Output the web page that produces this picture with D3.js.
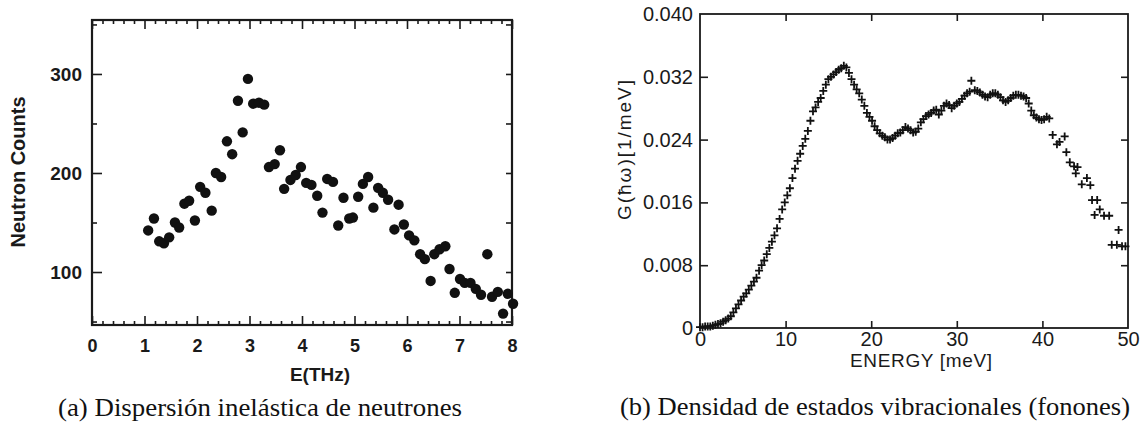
<!DOCTYPE html>
<html><head><meta charset="utf-8">
<script src="https://cdn.jsdelivr.net/npm/d3@7"></script>
<style>body{margin:0;background:#fff}svg{display:block}</style>
</head><body><svg id="c" width="1141" height="425"></svg>
<script>
// ---------- data: panel (a) ----------
const neutronE = [1.07,1.18,1.28,1.37,1.47,1.58,1.66,1.76,1.85,1.96,2.06,2.16,2.28,2.36,2.46,2.57,2.67,2.78,2.87,2.97,3.07,3.18,3.28,3.37,3.48,3.58,3.66,3.78,3.88,3.98,4.08,4.18,4.29,4.39,4.48,4.59,4.69,4.79,4.90,4.97,5.07,5.16,5.26,5.36,5.45,5.54,5.64,5.76,5.84,5.94,6.04,6.14,6.25,6.34,6.45,6.52,6.62,6.73,6.81,6.91,7.01,7.10,7.21,7.31,7.41,7.53,7.62,7.73,7.83,7.92,8.02];
const neutronCounts = [142,154,131,129,135,150,145,169,172,152,186,180,162,200,196,232,219,273,241,295,270,271,269,206,209,223,184,193,198,206,190,188,177,160,194,191,147,175,154,155,176,189,196,165,185,180,173,143,168,148,137,132,118,113,91,118,123,126,103,79,93,89,89,83,77,118,75,80,58,78,68];
const xTicksA = [0,1,2,3,4,5,6,7,8];
const yTicksA = [100,200,300];
const yMinorA = [50,150,250,350];

// ---------- data: panel (b) ----------
const dosE = [0.0,0.3,0.6,0.9,1.2,1.5,1.8,2.1,2.4,2.7,3.0,3.3,3.6,3.9,4.2,4.5,4.8,5.1,5.4,5.7,6.0,6.3,6.6,6.9,7.2,7.5,7.8,8.1,8.4,8.7,9.0,9.3,9.6,9.9,10.2,10.5,10.8,11.1,11.4,11.7,12.0,12.3,12.6,12.9,13.2,13.5,13.8,14.1,14.4,14.7,15.0,15.3,15.6,15.9,16.2,16.5,16.8,17.1,17.4,17.7,18.0,18.3,18.6,18.9,19.2,19.5,19.8,20.1,20.4,20.7,21.0,21.3,21.6,21.9,22.2,22.5,22.8,23.1,23.4,23.7,24.0,24.3,24.6,24.9,25.2,25.5,25.8,26.1,26.4,26.7,27.0,27.3,27.6,27.9,28.2,28.5,28.8,29.1,29.4,29.7,30.0,30.3,30.6,30.9,31.2,31.5,31.7,32.1,32.4,32.7,33.0,33.3,33.6,33.9,34.2,34.5,34.8,35.1,35.4,35.7,36.0,36.3,36.6,36.9,37.2,37.5,37.8,38.1,38.4,38.7,39.0,39.3,39.6,39.9,40.2,40.5,40.8,
  41.2,41.7,42.0,42.6,42.8,43.2,43.7,43.9,44.1,44.6,45.2,45.6,45.8,46.1,46.4,46.7,47.2,47.8,48.1,48.7,48.9,49.3,49.7];
const dosG = [0.0001,0.0001,0.0002,0.0002,0.0002,0.0003,0.0004,0.0005,0.0006,0.0008,0.0010,0.0012,0.0015,0.0020,0.0025,0.0030,0.0035,0.0040,0.0044,0.0049,0.0054,0.0059,0.0064,0.0073,0.0080,0.0086,0.0094,0.0102,0.0110,0.0118,0.0127,0.0139,0.0151,0.0160,0.0169,0.0178,0.0191,0.0203,0.0213,0.0222,0.0232,0.0241,0.0251,0.0264,0.0276,0.0281,0.0288,0.0293,0.0302,0.0310,0.0317,0.0320,0.0323,0.0326,0.0329,0.0331,0.0334,0.0332,0.0325,0.0317,0.0310,0.0304,0.0299,0.0291,0.0283,0.0274,0.0269,0.0264,0.0257,0.0252,0.0248,0.0245,0.0243,0.0240,0.0240,0.0242,0.0245,0.0248,0.0249,0.0252,0.0256,0.0254,0.0252,0.0249,0.0250,0.0254,0.0262,0.0266,0.0270,0.0272,0.0274,0.0277,0.0278,0.0272,0.0277,0.0283,0.0286,0.0284,0.0280,0.0283,0.0286,0.0288,0.0292,0.0296,0.0299,0.0301,0.0315,0.0303,0.0302,0.0300,0.0297,0.0295,0.0294,0.0297,0.0299,0.0299,0.0297,0.0294,0.0290,0.0288,0.0290,0.0293,0.0296,0.0297,0.0297,0.0296,0.0295,0.0293,0.0286,0.0277,0.0271,0.0268,0.0266,0.0265,0.0266,0.0269,0.0267,
  0.0246,0.0234,0.0237,0.0244,0.0224,0.0211,0.0206,0.0197,0.0205,0.0183,0.0191,0.0182,0.0163,0.0144,0.0163,0.0151,0.0143,0.0143,0.0106,0.0106,0.0125,0.0104,0.0104];
const xTicksB = [0,10,20,30,40,50];
const yTicksB = [0,0.008,0.016,0.024,0.032,0.040];
const yLabelsB = ["0","0.008","0.016","0.024","0.032","0.040"];

const captionA = "(a) Dispersión inelástica de neutrones";
const captionB = "(b) Densidad de estados vibracionales (fonones)";

const svg = d3.select("#c");
svg.append("rect").attr("width",1141).attr("height",425).attr("fill","#fff");
const INK = "#1a1a1a";
const SANS = "'Liberation Sans', Arial, Helvetica, sans-serif";
const SERIF = "'Liberation Serif', 'DejaVu Serif', serif";

function styleAxis(g, fs, weight){
  g.select(".domain").remove();
  g.selectAll("line").attr("stroke", INK).attr("stroke-width", 1.6);
  g.selectAll("text").attr("font-family", SANS).attr("font-size", fs)
    .attr("font-weight", weight).attr("fill", INK);
}

// ================= Panel (a) =================
const xA = d3.scaleLinear().domain([0,8]).range([92,512]);
const yA = d3.scaleLinear().domain([46.5,354.5]).range([325,20]);
const minorX = d3.range(0,8.01,0.2).filter(v => Math.abs(v-Math.round(v))>1e-6);

const gA = svg.append("g");
gA.append("g").attr("transform",`translate(0,${yA.range()[0]})`)
  .call(d3.axisBottom(xA).tickValues(minorX).tickSize(-4).tickFormat(""))
  .call(g=>styleAxis(g,18,"bold"));
gA.append("g").attr("transform",`translate(0,${yA.range()[0]})`)
  .call(d3.axisBottom(xA).tickValues(xTicksA).tickSize(-9).tickPadding(14).tickFormat(d3.format("d")))
  .call(g=>styleAxis(g,18,"bold"));
gA.append("g").attr("transform",`translate(0,${yA.range()[1]})`)
  .call(d3.axisTop(xA).tickValues(minorX).tickSize(-4).tickFormat(""))
  .call(g=>styleAxis(g,18,"bold"));
gA.append("g").attr("transform",`translate(0,${yA.range()[1]})`)
  .call(d3.axisTop(xA).tickValues(xTicksA).tickSize(-9).tickFormat(""))
  .call(g=>styleAxis(g,18,"bold"));
gA.append("g").attr("transform",`translate(${xA.range()[0]},0)`)
  .call(d3.axisLeft(yA).tickValues(yMinorA).tickSize(-5).tickFormat(""))
  .call(g=>styleAxis(g,19,"bold"));
gA.append("g").attr("transform",`translate(${xA.range()[0]},0)`)
  .call(d3.axisLeft(yA).tickValues(yTicksA).tickSize(-10).tickPadding(10).tickFormat(d3.format("d")))
  .call(g=>styleAxis(g,19,"bold"));
gA.append("g").attr("transform",`translate(${xA.range()[1]},0)`)
  .call(d3.axisRight(yA).tickValues(yMinorA.concat(yTicksA)).tickSize(-6).tickFormat(""))
  .call(g=>styleAxis(g,19,"bold"));
gA.append("rect").attr("x",xA.range()[0]).attr("y",yA.range()[1])
  .attr("width",xA.range()[1]-xA.range()[0]).attr("height",yA.range()[0]-yA.range()[1])
  .attr("fill","none").attr("stroke",INK).attr("stroke-width",2.2);
gA.append("g").selectAll("circle").data(neutronE.map((e,i)=>[e,neutronCounts[i]]))
  .join("circle").attr("cx",d=>xA(d[0])).attr("cy",d=>yA(d[1])).attr("r",5.2).attr("fill","#111");
gA.append("text").attr("x",320).attr("y",381).attr("text-anchor","middle")
  .attr("font-family",SANS).attr("font-weight","bold").attr("font-size",19).attr("fill",INK).text("E(THz)");
gA.append("text").attr("transform","translate(25,172) rotate(-90)").attr("text-anchor","middle")
  .attr("font-family",SANS).attr("font-weight","bold").attr("font-size",20).attr("fill",INK).text("Neutron Counts");

// ================= Panel (b) =================
const xB = d3.scaleLinear().domain([0,50]).range([700,1128]);
const yB = d3.scaleLinear().domain([0,0.040]).range([328,14]);
const innerX = xTicksB.slice(1,-1);
const innerY = yTicksB.slice(1,-1);
const gB = svg.append("g");
gB.append("g").attr("transform",`translate(0,${yB.range()[0]})`)
  .call(d3.axisBottom(xB).tickValues(xTicksB).tickSize(0).tickPadding(4).tickFormat(d3.format("d")))
  .call(g=>styleAxis(g,20,"normal"));
gB.append("g").attr("transform",`translate(0,${yB.range()[0]})`)
  .call(d3.axisBottom(xB).tickValues(innerX).tickSize(-7).tickFormat(""))
  .call(g=>styleAxis(g,20,"normal"));
gB.append("g").attr("transform",`translate(0,${yB.range()[1]})`)
  .call(d3.axisTop(xB).tickValues(innerX).tickSize(-7).tickFormat(""))
  .call(g=>styleAxis(g,20,"normal"));
gB.append("g").attr("transform",`translate(${xB.range()[0]},0)`)
  .call(d3.axisLeft(yB).tickValues(yTicksB).tickSize(0).tickPadding(7).tickFormat((d,i)=>yLabelsB[i]))
  .call(g=>styleAxis(g,20,"normal"));
gB.append("g").attr("transform",`translate(${xB.range()[0]},0)`)
  .call(d3.axisLeft(yB).tickValues(innerY).tickSize(-8).tickFormat(""))
  .call(g=>styleAxis(g,20,"normal"));
gB.append("g").attr("transform",`translate(${xB.range()[1]},0)`)
  .call(d3.axisRight(yB).tickValues(innerY).tickSize(-7).tickFormat(""))
  .call(g=>styleAxis(g,20,"normal"));
gB.append("rect").attr("x",xB.range()[0]).attr("y",yB.range()[1])
  .attr("width",xB.range()[1]-xB.range()[0]).attr("height",yB.range()[0]-yB.range()[1])
  .attr("fill","none").attr("stroke",INK).attr("stroke-width",1.8);
gB.append("g").selectAll("path").data(dosE.map((e,i)=>[e,dosG[i]]))
  .join("path").attr("transform",d=>`translate(${xB(d[0])},${yB(d[1])})`)
  .attr("d","M-4,0H4M0,-4V4").attr("stroke","#111").attr("stroke-width",1.8).attr("fill","none");
gB.append("text").attr("x",921).attr("y",367).attr("text-anchor","middle")
  .attr("font-family",SANS).attr("font-size",19).attr("fill",INK)
  .attr("textLength",142).attr("lengthAdjust","spacing").text("ENERGY  [meV]");
gB.append("text").attr("transform","translate(631,150) rotate(-90)").attr("text-anchor","middle")
  .attr("font-family",SANS).attr("font-size",19).attr("fill",INK)
  .attr("textLength",140).attr("lengthAdjust","spacing").text("G(ħω)[1/meV]");

// ================= captions =================
svg.append("text").attr("x",58).attr("y",416).attr("font-family",SERIF).attr("font-size",24.5)
  .attr("fill","#111").attr("textLength",404).attr("lengthAdjust","spacingAndGlyphs").text(captionA);
svg.append("text").attr("x",620).attr("y",415).attr("font-family",SERIF).attr("font-size",24.5)
  .attr("fill","#111").attr("textLength",510).attr("lengthAdjust","spacingAndGlyphs").text(captionB);
</script>
</body></html>
